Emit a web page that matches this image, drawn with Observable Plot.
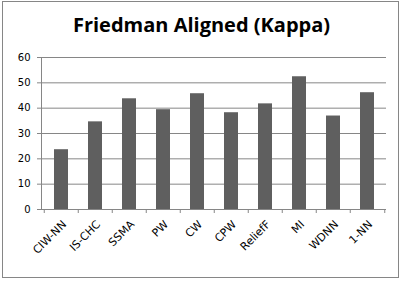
<!DOCTYPE html>
<html>
<head>
<meta charset="utf-8">
<script src="https://cdn.jsdelivr.net/npm/d3@7"></script>
<script src="https://cdn.jsdelivr.net/npm/@observablehq/plot@0.6"></script>
<style>
  body { margin: 0; background: #fff; }
  #wrap { position: relative; width: 403px; height: 281px; overflow: hidden; }
  #border { position: absolute; left: 2px; top: 1px; width: 397px; height: 277px; border: 1px solid #868686; box-sizing: border-box; }
  #title { position: absolute; left: 0; width: 403px; top: 11px; text-align: center; font-family: "Open Sans", sans-serif; font-weight: 700; font-size: 20px; color: #000; }
  #chart { position: absolute; left: 0; top: 0; }
</style>
</head>
<body>
<div id="wrap">
  <div id="border"></div>
  <div id="chart"></div>
  <div id="title">Friedman Aligned (Kappa)</div>
</div>
<script>
const categories = ["CIW-NN", "IS-CHC", "SSMA", "PW", "CW", "CPW", "ReliefF", "MI", "WDNN", "1-NN"];
const values = [23.6, 34.6, 43.7, 39.4, 45.7, 38.2, 41.7, 52.4, 36.9, 46.1];
const yTicks = [0, 10, 20, 30, 40, 50, 60];

const data = categories.map((c, i) => ({category: c, value: values[i]}));
const step = (386 - 41) / categories.length;

const chart = Plot.plot({
  width: 403,
  height: 281,
  marginLeft: 41,
  marginRight: 17,
  marginTop: 57,
  marginBottom: 72,
  style: {fontFamily: "DejaVu Sans, sans-serif", fontSize: "9.5px", color: "#000", background: "transparent"},
  x: {domain: categories, paddingInner: 0.6, paddingOuter: 0.3, label: null},
  y: {domain: [0, 60], label: null},
  marks: [
    Plot.gridY(yTicks, {stroke: "#868686", strokeOpacity: 1}),
    Plot.frame({anchor: "left", stroke: "#868686"}),
    Plot.ruleY([0], {stroke: "#868686"}),
    Plot.barY(data, {x: "category", y: "value", fill: "#5f5f5f"}),
    Plot.ruleX(categories, {x: d => d, dx: -step / 2, y1: 0, y2: 0, insetBottom: -4, stroke: "#868686"}),
    Plot.ruleX(categories.slice(-1), {x: d => d, dx: step / 2, y1: 0, y2: 0, insetBottom: -4, stroke: "#868686"}),
    Plot.axisY(yTicks, {tickSize: 4, stroke: "#868686", tickPadding: 7, fill: "#000", fontSize: 10}),
    Plot.axisX({tickSize: 0, tickRotate: -45, textAnchor: "end", tickPadding: 13, dx: 3, fill: "#000", fontSize: 11})
  ]
});
document.getElementById("chart").appendChild(chart);
</script>
</body>
</html>
